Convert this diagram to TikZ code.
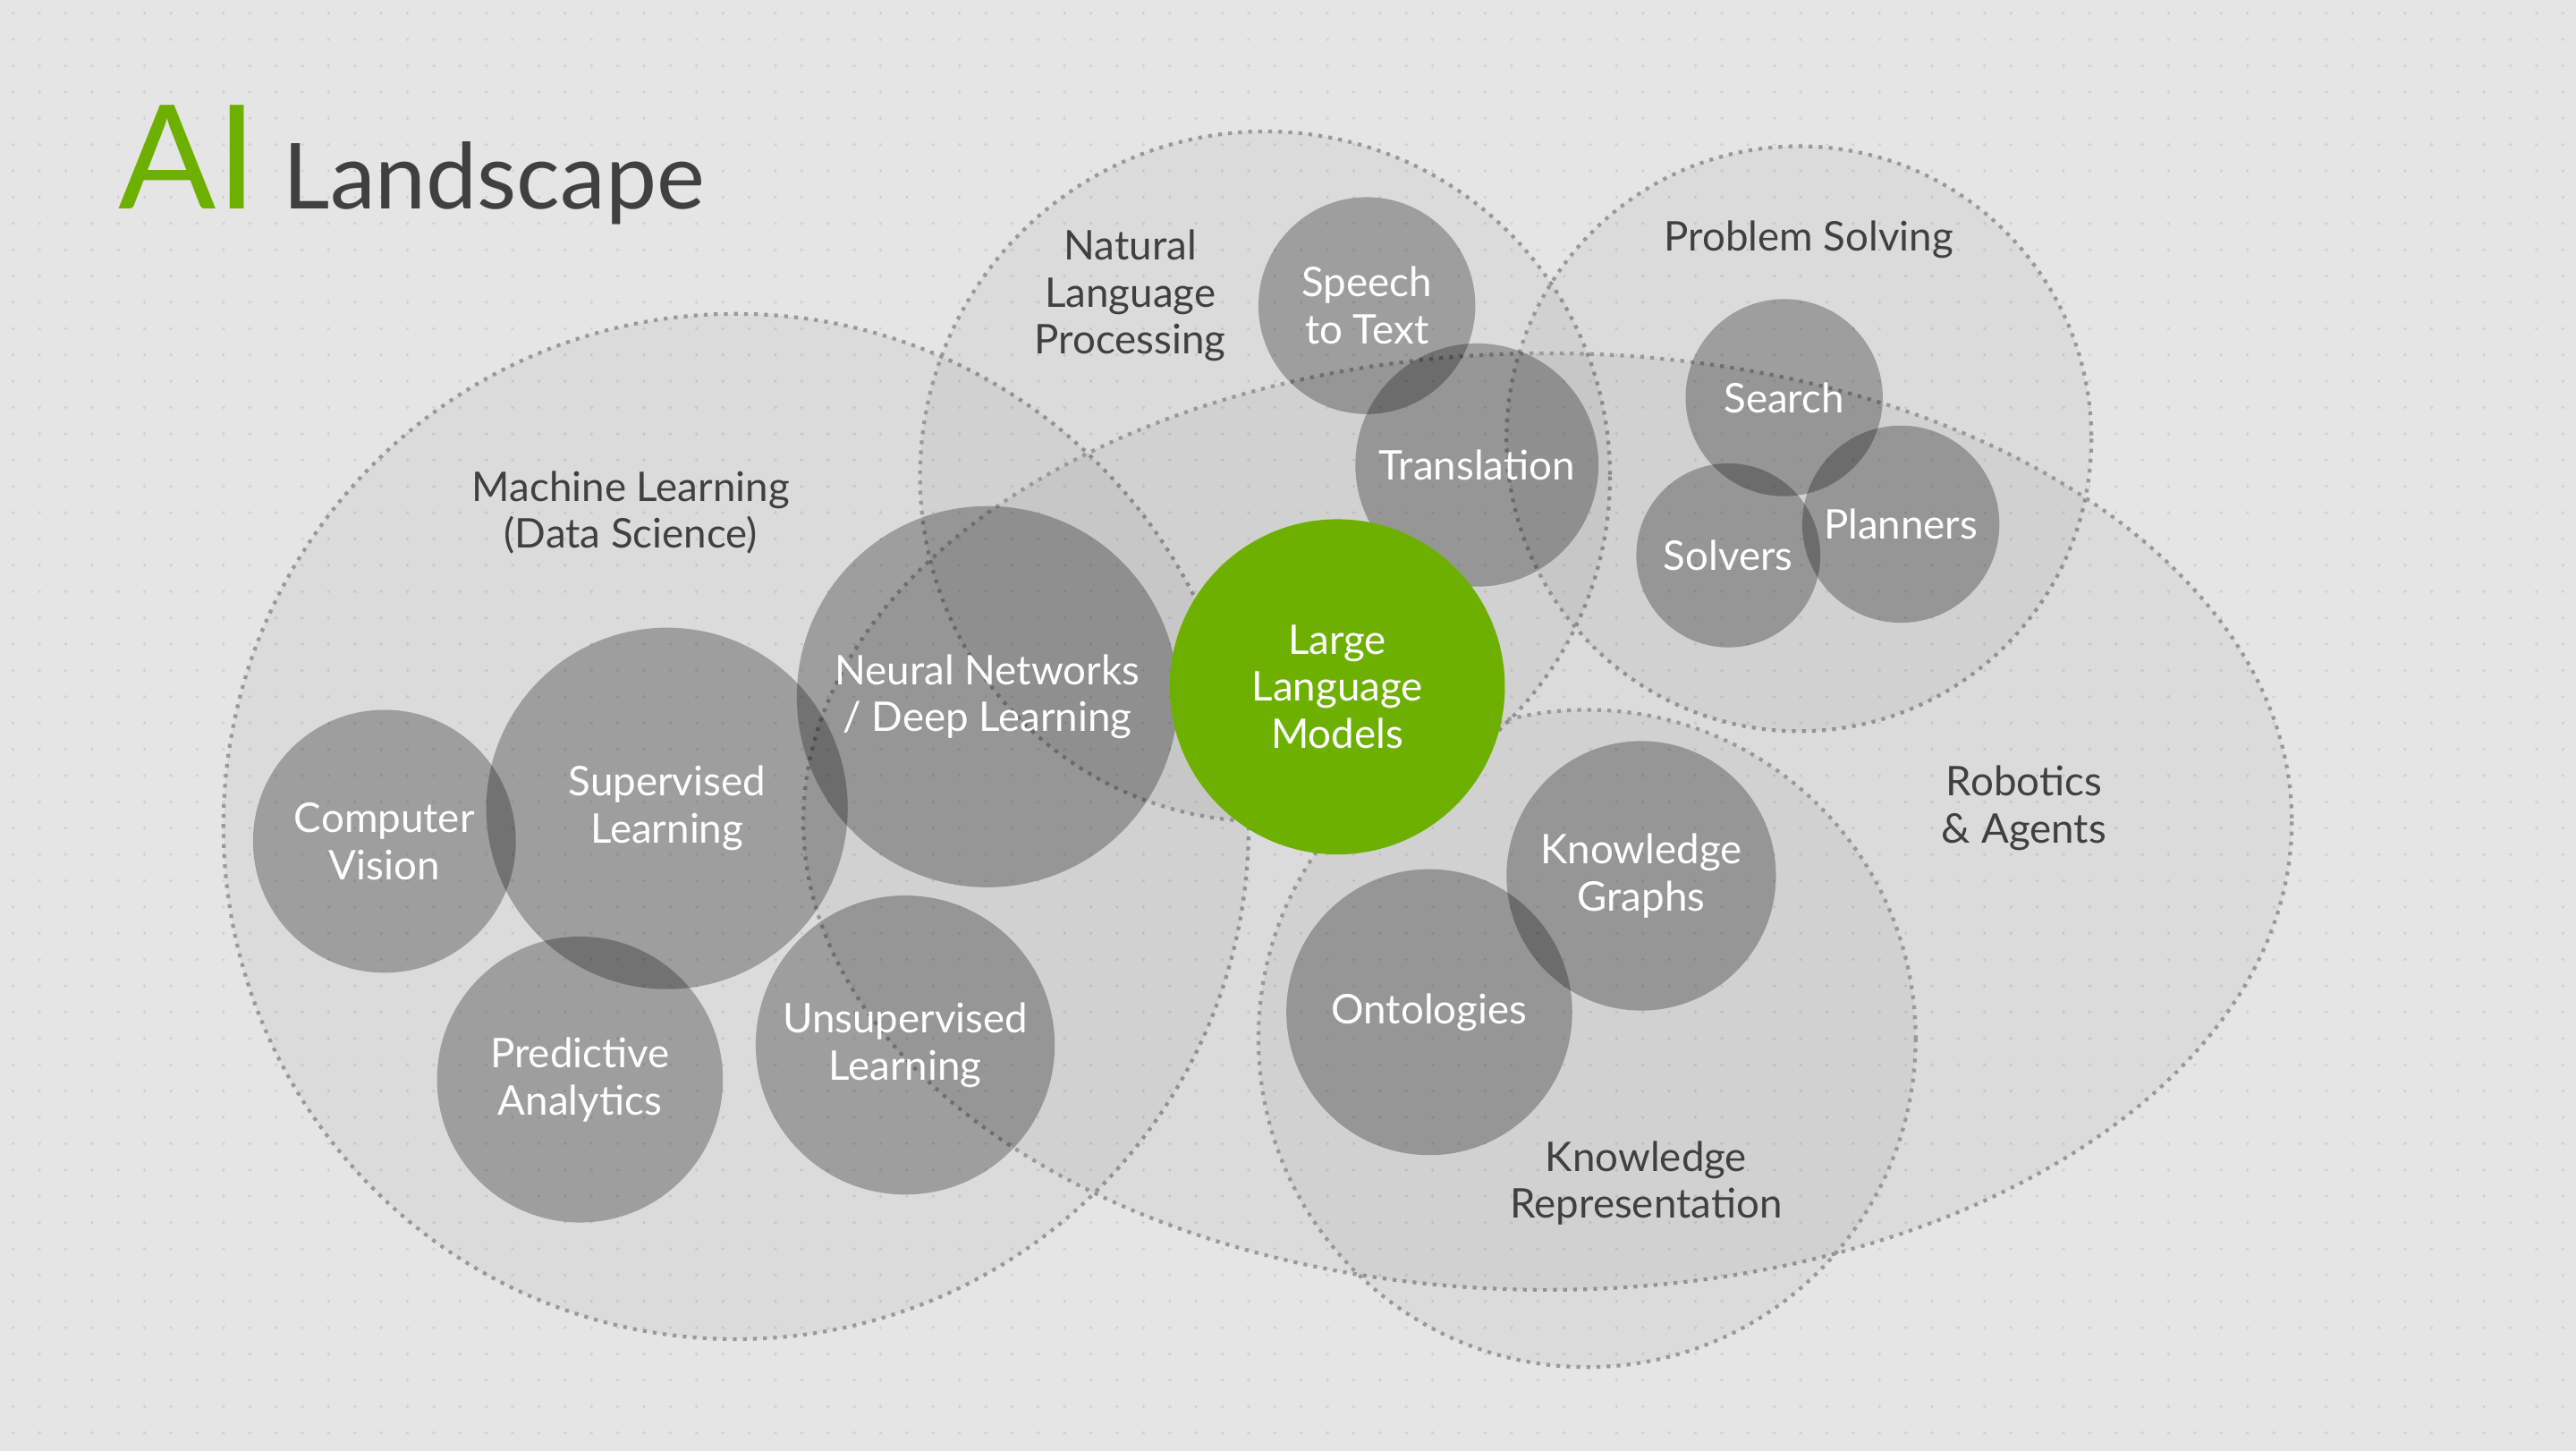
\documentclass[tikz,border=0pt]{standalone}
\usepackage{fontspec}
\setmainfont{Lato}
\begin{document}
\begin{tikzpicture}[x=0.01837cm,y=-0.01837cm,
  region/.style={draw=black!40,dotted,line width=1.2pt,fill=black,fill opacity=0.045,draw opacity=1},
  topic/.style={circle,fill=black,fill opacity=0.28,inner sep=0pt,minimum size=#1*0.01837cm},
  tlabel/.style={text=white,font=\fontsize{13}{15}\selectfont,align=center},
  rlabel/.style={text=black!75,font=\fontsize{13}{15}\selectfont,align=center}]
\fill[black!10] (0,0) rectangle (1568,883);
\useasboundingbox (0,0) rectangle (1568,883);
\foreach \i in {0,...,97}{\foreach \j in {0,...,54}{\fill[black!18] (8+\i*16,8+\j*16) circle (1);}}
% regions
\draw[region] (448,503) circle (312);
\draw[region] (770,290) circle (210);
\draw[region] (1095,267) circle (178);
\draw[region] (942,500) ellipse (453 and 285);
\draw[region] (966,632) circle (200);
% topics
\node[topic=132] (stt) at (832,186) {};
\node[topic=148] (tr) at (899,283) {};
\node[topic=120] (se) at (1086,242) {};
\node[topic=112] (so) at (1052,338) {};
\node[topic=120] (pl) at (1157,319) {};
\node[topic=232] (nn) at (601,424) {};
\node[topic=220] (sl) at (406,492) {};
\node[topic=160] (cv) at (234,512) {};
\node[topic=174] (pa) at (353,657) {};
\node[topic=182] (ul) at (551,636) {};
\node[topic=164] (kg) at (999,533) {};
\node[topic=174] (on) at (870,616) {};
\node[circle,fill={rgb,255:red,110;green,176;blue,0},minimum size=204*0.01837cm,inner sep=0pt] (llm) at (814,418) {};
% topic labels
\node[tlabel] (tstt) at (stt) {Speech\\to Text};
\node[tlabel] (ttr) at (tr) {Translation};
\node[tlabel] (tse) at (se) {Search};
\node[tlabel] (tso) at (so) {Solvers};
\node[tlabel] (tpl) at (pl) {Planners};
\node[tlabel] (tnn) at (nn) {Neural Networks\\/ Deep Learning};
\node[tlabel] (tsl) at (sl) {Supervised\\Learning};
\node[tlabel] (tcv) at (cv) {Computer\\Vision};
\node[tlabel] (tpa) at (pa) {Predictive\\Analytics};
\node[tlabel] (tul) at (ul) {Unsupervised\\Learning};
\node[tlabel] (tkg) at (kg) {Knowledge\\Graphs};
\node[tlabel] (ton) at (on) {Ontologies};
\node[tlabel] (tllm) at (llm) {Large\\Language\\Models};
% region labels
\node[rlabel] (lml) at (384,312) {Machine Learning\\(Data Science)};
\node[rlabel] (lnlp) at (688,180) {Natural\\Language\\Processing};
\node[rlabel] (lps) at (1101,146) {Problem Solving};
\node[rlabel] (lra) at (1232,492) {Robotics\\\& Agents};
\node[rlabel] (lkr) at (1002,720) {Knowledge\\Representation};
% title
\node[anchor=base west,inner sep=0pt,text={rgb,255:red,110;green,176;blue,0},font=\fontsize{46}{50}\selectfont] (ai) at (72,127) {AI};
\node[anchor=base west,inner sep=0pt,text=black!75,font=\fontsize{29}{32}\selectfont] (ls) at (172,127) {Landscape};
\end{tikzpicture}
\end{document}
